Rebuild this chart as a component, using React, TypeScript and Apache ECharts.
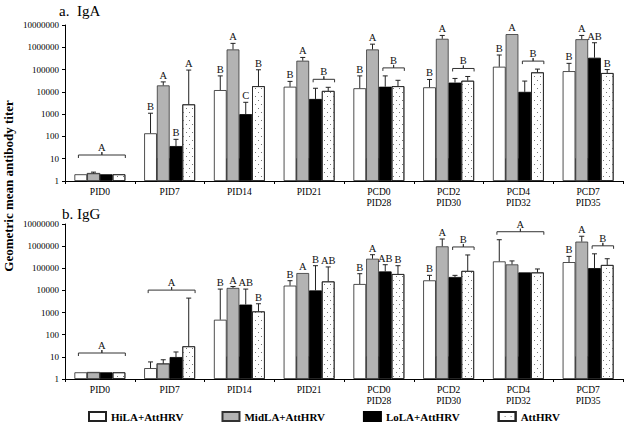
import React, { useEffect, useRef } from "react";
import * as echarts from "echarts";

const categories = ["PID0", "PID7", "PID14", "PID21", "PCD0\nPID28", "PCD2\nPID30", "PCD4\nPID32", "PCD7\nPID35"];
const seriesNames = ["HiLA+AttHRV", "MidLA+AttHRV", "LoLA+AttHRV", "AttHRV"];
const yTicks = [1, 10, 100, 1000, 10000, 100000, 1000000, 10000000];

// a. IgA
const igaHiLA = [2, 138, 12000, 17000, 14500, 16000, 134000, 85000];
const igaHiLAErr = [null, 1100, 52000, 29500, 52000, 36000, 450000, 190000];
const igaMidLA = [2.2, 19500, 800000, 250000, 800000, 2400000, 3900000, 2300000];
const igaMidLAErr = [2.5, 28000, 1500000, 350000, 1380000, 3400000, null, 3400000];
const igaLoLA = [2, 37, 1000, 4800, 17000, 26000, 10000, 340000];
const igaLoLAErr = [null, 74, 3400, 14500, 52000, 40000, 30500, 1600000];
const igaAtt = [2, 2750, 18000, 11000, 18000, 31500, 75000, 70000];
const igaAttErr = [null, 95000, 98000, 16000, 33000, 49000, 105000, 100000];
const igaLetters = [
  [["A", 0, 3]],
  [["B", 0, 0], ["A", 1, 1], ["B", 2, 2], ["A", 3, 3]],
  [["B", 0, 0], ["A", 1, 1], ["C", 2, 2], ["B", 3, 3]],
  [["B", 0, 0], ["A", 1, 1], ["B", 2, 3]],
  [["B", 0, 0], ["A", 1, 1], ["B", 2, 3]],
  [["B", 0, 0], ["A", 1, 1], ["B", 2, 3]],
  [["B", 0, 0], ["A", 1, 1], ["B", 2, 3]],
  [["B", 0, 0], ["A", 1, 1], ["AB", 2, 2], ["B", 3, 3]],
];

// b. IgG
const iggHiLA = [2, 3.1, 475, 16500, 19500, 28500, 205000, 190000];
const iggHiLAErr = [null, 5.9, 11500, 27500, 57000, 48000, 1950000, 345000];
const iggMidLA = [2, 4.9, 13000, 61000, 270000, 980000, 150000, 1600000];
const iggMidLAErr = [null, 7.4, 15000, null, 410000, 2100000, 215000, 2800000];
const iggLoLA = [2, 9.8, 2300, 10000, 72000, 40500, 65000, 102000];
const iggLoLAErr = [null, 16.6, 11500, 131000, 145000, 48000, null, 450000];
const iggAtt = [2, 30, 1130, 25500, 55000, 76000, 65000, 141000];
const iggAttErr = [null, 4500, 2500, 115000, 131000, 400000, 93000, 270000];
const iggLetters = [
  [["A", 0, 3]],
  [["A", 0, 3]],
  [["B", 0, 0], ["A", 1, 1], ["AB", 2, 2], ["B", 3, 3]],
  [["B", 0, 0], ["A", 1, 1], ["B", 2, 2], ["AB", 3, 3]],
  [["B", 0, 0], ["A", 1, 1], ["AB", 2, 2], ["B", 3, 3]],
  [["B", 0, 0], ["A", 1, 1], ["B", 2, 3]],
  [["A", 0, 3]],
  [["B", 0, 0], ["A", 1, 1], ["B", 2, 3]],
];

const FONT = "Liberation Serif";
const GAP = 0.27;

const panels = [
  { means: [igaHiLA, igaMidLA, igaLoLA, igaAtt], errs: [igaHiLAErr, igaMidLAErr, igaLoLAErr, igaAttErr], letters: igaLetters },
  { means: [iggHiLA, iggMidLA, iggLoLA, iggAtt], errs: [iggHiLAErr, iggMidLAErr, iggLoLAErr, iggAttErr], letters: iggLetters },
];

const barStyles = [
  { color: "#ffffff", borderColor: "#222", borderWidth: 0.8 },
  { color: "#b3b3b3", borderColor: "#333", borderWidth: 0.8 },
  { color: "#000000", borderColor: "#000", borderWidth: 0.8 },
  {
    color: "#ffffff",
    borderColor: "#222",
    borderWidth: 0.8,
    decal: {
      symbol: "rect",
      symbolSize: 1,
      color: "#777",
      dashArrayX: [[1, 5], [0, 3, 1, 2]],
      dashArrayY: [1, 3],
      rotation: 0,
    },
  },
];

function barGeom(api: any, cat: number, i: number) {
  const cx = api.coord([cat, 1])[0];
  const band = api.size([1, 1])[0];
  const bw = (band * (1 - GAP)) / 4;
  const left = cx - 2 * bw + i * bw;
  return { left, bw, center: left + bw / 2 };
}

function buildOption() {
  const series: any[] = [];
  panels.forEach((p, pi) => {
    p.means.forEach((vals, i) => {
      series.push({
        type: "bar",
        name: seriesNames[i],
        xAxisIndex: pi,
        yAxisIndex: pi,
        data: vals,
        barGap: "0%",
        barCategoryGap: "27%",
        itemStyle: barStyles[i],
      });
    });
    // darker lower band on the grey bars
    series.push({
      type: "custom",
      xAxisIndex: pi,
      yAxisIndex: pi,
      encode: { x: 0, y: 1 },
      itemStyle: { color: "#999999" },
      data: p.means[1].map((v, c) => [c, v]),
      renderItem: (params: any, api: any) => {
        const c = api.value(0);
        const v = api.value(1);
        const g = barGeom(api, c, 1);
        const y0 = api.coord([c, 1])[1];
        const y1 = api.coord([c, Math.min(v, 10)])[1];
        return {
          type: "rect",
          shape: { x: g.left, y: y1, width: g.bw, height: y0 - y1 },
          style: { fill: "#999999", stroke: "#333", lineWidth: 0.8 },
        };
      },
    });
    // error bars
    const errData: number[][] = [];
    p.errs.forEach((arr, i) =>
      arr.forEach((e, c) => {
        if (e != null) errData.push([c, i, p.means[i][c], e]);
      })
    );
    series.push({
      type: "custom",
      xAxisIndex: pi,
      yAxisIndex: pi,
      encode: { x: 0, y: 3 },
      itemStyle: { color: "#222222" },
      data: errData,
      z: 3,
      renderItem: (params: any, api: any) => {
        const c = api.value(0);
        const i = api.value(1);
        const g = barGeom(api, c, i);
        const yv = api.coord([c, api.value(2)])[1];
        const ye = api.coord([c, api.value(3)])[1];
        const st = { stroke: "#222", lineWidth: 1 };
        return {
          type: "group",
          children: [
            { type: "line", shape: { x1: g.center, y1: yv, x2: g.center, y2: ye }, style: st },
            { type: "line", shape: { x1: g.center - 2.5, y1: ye, x2: g.center + 2.5, y2: ye }, style: st },
          ],
        };
      },
    });
    // significance letters and brackets
    const annData: number[][] = [];
    const annText: string[] = [];
    p.letters.forEach((list, c) =>
      list.forEach((l: any) => {
        let top = 0;
        for (let i = l[1]; i <= l[2]; i++) {
          const e = p.errs[i][c];
          top = Math.max(top, e != null ? e : p.means[i][c]);
        }
        annData.push([c, l[1], l[2], top]);
        annText.push(l[0]);
      })
    );
    series.push({
      type: "custom",
      xAxisIndex: pi,
      yAxisIndex: pi,
      encode: { x: 0, y: 3 },
      itemStyle: { color: "#111111" },
      data: annData,
      z: 4,
      renderItem: (params: any, api: any) => {
        const c = api.value(0);
        const from = api.value(1);
        const to = api.value(2);
        const yt = api.coord([c, api.value(3)])[1];
        const text = annText[params.dataIndex];
        const ts = { font: `10.5px ${FONT}`, fill: "#111111", align: "center", verticalAlign: "bottom" };
        if (from === to) {
          const g = barGeom(api, c, from);
          return { type: "text", style: { ...ts, text, x: g.center, y: yt - 1 } };
        }
        const a = barGeom(api, c, from);
        const b = barGeom(api, c, to);
        const base = api.coord([c, 1])[1];
        const y = Math.min(yt - 8, base - 26);
        const x1 = a.left + 4;
        const x2 = b.left + b.bw;
        const xc = (x1 + x2) / 2;
        return {
          type: "group",
          children: [
            {
              type: "polyline",
              shape: { points: [[x1, y + 3], [x1, y], [xc, y], [xc, y - 3], [xc, y], [x2, y], [x2, y + 3]] },
              style: { stroke: "#333", lineWidth: 1, fill: null },
            },
            { type: "text", style: { ...ts, text, x: xc, y: y - 2 } },
          ],
        };
      },
    });
  });

  const yAxis = (gi: number) => ({
    type: "log",
    logBase: 10,
    gridIndex: gi,
    min: yTicks[0],
    max: yTicks[yTicks.length - 1],
    splitLine: { show: false },
    axisLine: { show: true, lineStyle: { color: "#000", width: 1 } },
    axisTick: { show: true, length: 3, lineStyle: { color: "#000" } },
    axisLabel: {
      fontFamily: FONT,
      fontSize: 9,
      color: "#000",
      margin: 6,
      formatter: (v: number) => String(Math.round(v)),
    },
  });
  const xAxis = (gi: number) => ({
    type: "category",
    gridIndex: gi,
    data: categories,
    axisLine: { show: true, lineStyle: { color: "#000", width: 1 } },
    axisTick: { show: true, length: 3, lineStyle: { color: "#000" } },
    axisLabel: { fontFamily: FONT, fontSize: 9.5, color: "#000", margin: 5, lineHeight: 11, interval: 0 },
  });

  return {
    animation: false,
    backgroundColor: "#fff",
    textStyle: { fontFamily: FONT },
    grid: [
      { left: 65, top: 25, width: 558, height: 156 },
      { left: 65, top: 224, width: 558, height: 155 },
    ],
    xAxis: [xAxis(0), xAxis(1)],
    yAxis: [yAxis(0), yAxis(1)],
    legend: {
      data: seriesNames,
      left: 83,
      top: 406,
      itemWidth: 17,
      itemHeight: 9,
      itemGap: 38,
      icon: "rect",
      textStyle: { fontFamily: FONT, fontSize: 11, fontWeight: "bold", color: "#000" },
      selectedMode: false,
    },
    graphic: [
      { type: "text", left: 59, top: 3, style: { text: "a.  IgA", font: `15px ${FONT}`, fill: "#000" } },
      { type: "text", left: 62, top: 206, style: { text: "b. IgG", font: `15px ${FONT}`, fill: "#000" } },
      {
        type: "text",
        x: 2,
        y: 186,
        rotation: Math.PI / 2,
        style: {
          text: "Geometric mean antibody titer",
          font: `bold 13px ${FONT}`,
          fill: "#000",
          align: "center",
          verticalAlign: "top",
        },
      },
    ],
    series,
  };
}

export default function App() {
  const ref = useRef<HTMLDivElement>(null);
  useEffect(() => {
    if (!ref.current) return;
    const chart = echarts.init(ref.current, null, { renderer: "svg" });
    chart.setOption(buildOption() as any);
    return () => chart.dispose();
  }, []);
  return <div ref={ref} style={{ position: "fixed", left: 0, top: 0, width: 626, height: 423 }} />;
}
